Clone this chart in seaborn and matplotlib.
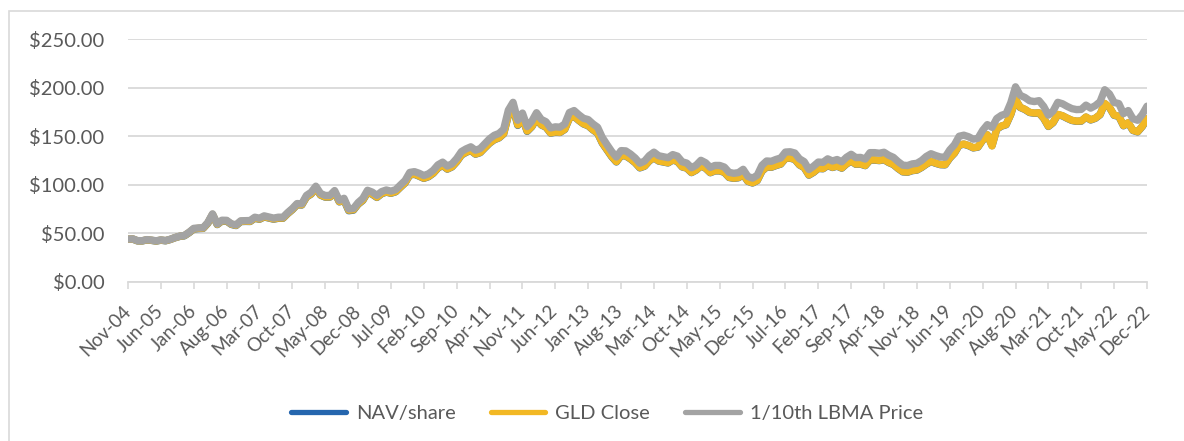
import numpy as np
import pandas as pd
import matplotlib
matplotlib.use("Agg")
import matplotlib.pyplot as plt
from matplotlib.patches import Rectangle
import seaborn as sns

# Monthly values, Nov-2004 .. Dec-2022
lbma_tenth = [
    43.9, 44.2,
    42.4, 42.3, 43.4, 42.9, 42.2, 43.1, 42.5, 43.8, 45.6, 47.0, 47.7, 51.0,
    55.0, 55.5, 55.7, 61.1, 70.0, 59.6, 63.4, 63.3, 59.8, 58.6, 62.8, 63.0,
    63.1, 66.5, 65.5, 67.9, 66.7, 65.6, 66.5, 66.5, 71.3, 75.5, 80.6, 80.3,
    89.0, 92.2, 98.5, 91.0, 88.9, 89.0, 94.0, 83.9, 86.0, 75.0, 75.5, 81.6,
    85.9, 94.3, 92.4, 89.0, 92.9, 94.6, 93.4, 94.9, 99.7, 104.3, 112.7, 113.5,
    111.8, 109.5, 111.3, 114.9, 120.5, 123.3, 119.3, 121.6, 127.1, 134.2, 137.0, 139.1,
    135.6, 137.3, 142.4, 147.4, 151.0, 152.9, 157.3, 177.0, 185.0, 166.5, 173.9, 160.0,
    165.6, 174.3, 167.4, 165.0, 158.6, 159.7, 159.4, 162.6, 174.5, 176.5, 172.2, 168.5,
    167.2, 162.8, 159.3, 148.8, 141.4, 134.3, 128.6, 135.2, 134.9, 131.7, 127.6, 122.2,
    124.4, 130.0, 133.6, 129.9, 128.9, 127.9, 131.1, 129.5, 123.7, 122.3, 117.5, 120.2,
    125.2, 122.7, 117.9, 119.9, 119.9, 118.2, 112.8, 111.8, 112.5, 115.9, 108.6, 106.8,
    109.8, 120.0, 124.5, 124.2, 126.1, 127.6, 133.7, 134.0, 132.7, 126.7, 123.8, 115.7,
    119.2, 123.4, 123.1, 126.7, 124.5, 126.0, 123.7, 128.3, 131.4, 128.0, 128.2, 126.5,
    133.1, 133.1, 132.5, 133.5, 130.4, 128.2, 123.8, 120.2, 119.8, 121.5, 122.1, 125.0,
    129.2, 132.0, 130.1, 128.6, 128.4, 135.9, 141.3, 150.0, 151.1, 149.5, 147.0, 147.9,
    156.1, 162.0, 159.2, 168.3, 171.6, 173.2, 184.7, 201.0, 192.2, 190.0, 186.6, 185.8,
    186.7, 180.8, 171.8, 176.0, 185.0, 183.5, 180.8, 178.5, 177.5, 177.7, 182.1, 179.0,
    181.6, 185.6, 198.0, 193.7, 184.9, 183.7, 173.3, 176.5, 168.1, 166.5, 172.5, 181.0,
]

gld_close = [
    43.8, 44.1,
    42.2, 42.1, 43.2, 42.7, 42.0, 42.9, 42.3, 43.6, 45.4, 46.8, 47.5, 50.7,
    54.5, 55.0, 55.2, 60.5, 69.4, 59.1, 62.8, 62.7, 59.3, 58.1, 62.2, 62.4,
    62.3, 65.6, 64.6, 67.0, 65.8, 64.7, 65.6, 65.6, 70.4, 74.5, 79.6, 79.3,
    87.5, 90.6, 96.8, 89.5, 87.4, 87.5, 92.4, 82.5, 84.5, 73.7, 74.2, 80.2,
    84.1, 92.3, 90.5, 87.1, 90.9, 92.6, 91.4, 92.9, 97.6, 102.1, 110.3, 111.1,
    109.0, 106.8, 108.5, 112.0, 117.5, 120.2, 116.3, 118.6, 123.9, 130.8, 133.6, 135.6,
    131.7, 133.3, 138.3, 143.1, 146.6, 148.5, 152.7, 171.9, 179.6, 161.7, 168.9, 155.4,
    160.1, 168.6, 161.9, 159.6, 153.4, 154.4, 154.1, 157.2, 168.7, 170.7, 166.5, 162.9,
    161.0, 156.8, 153.4, 143.3, 136.2, 129.3, 123.8, 130.2, 129.9, 126.8, 122.9, 117.7,
    119.3, 124.7, 128.1, 124.6, 123.6, 122.7, 125.7, 124.2, 118.6, 117.3, 112.7, 115.3,
    119.6, 117.2, 112.6, 114.5, 114.5, 112.9, 107.7, 106.8, 107.4, 110.7, 103.7, 102.0,
    104.5, 114.2, 118.5, 118.2, 120.0, 121.5, 127.3, 127.6, 126.3, 120.6, 117.9, 110.1,
    113.0, 117.0, 116.7, 120.1, 118.0, 119.4, 117.3, 121.6, 124.6, 121.3, 121.5, 119.9,
    125.6, 125.6, 125.1, 126.0, 123.1, 121.0, 116.9, 113.5, 113.1, 114.7, 115.3, 118.0,
    121.4, 124.1, 122.3, 120.9, 120.7, 127.7, 132.8, 141.0, 142.0, 140.5, 138.2, 139.0,
    146.1, 151.6, 140.0, 157.5, 160.6, 162.1, 172.9, 188.1, 179.9, 177.8, 174.7, 173.9,
    174.2, 168.7, 160.3, 164.2, 172.6, 171.2, 168.7, 166.5, 165.6, 165.8, 169.9, 167.0,
    168.7, 172.4, 183.9, 179.9, 171.8, 170.7, 161.0, 164.0, 156.2, 154.7, 160.3, 168.1,
]

nav_share = [
    43.7, 44.0,
    42.1, 42.0, 43.1, 42.6, 41.9, 42.8, 42.2, 43.5, 45.3, 46.7, 47.3, 50.5,
    54.3, 54.8, 55.0, 60.3, 69.1, 58.9, 62.6, 62.5, 59.1, 57.9, 62.0, 62.2,
    62.1, 65.4, 64.4, 66.8, 65.6, 64.5, 65.4, 65.4, 70.2, 74.3, 79.4, 79.1,
    87.3, 90.4, 96.5, 89.3, 87.2, 87.3, 92.1, 82.3, 84.2, 73.2, 73.8, 79.9,
    83.8, 92.0, 90.2, 86.9, 90.7, 92.4, 91.2, 92.7, 97.4, 101.9, 110.0, 110.8,
    108.8, 106.6, 108.3, 111.8, 117.2, 119.9, 116.1, 118.4, 123.7, 130.6, 133.4, 135.4,
    131.5, 133.1, 138.1, 142.9, 146.4, 148.3, 152.5, 171.6, 179.3, 161.2, 168.7, 155.0,
    159.9, 168.4, 161.7, 159.4, 153.2, 154.2, 153.9, 157.0, 168.5, 170.5, 166.3, 162.7,
    160.8, 156.6, 153.2, 143.0, 135.9, 129.0, 123.5, 130.0, 129.7, 126.6, 122.7, 117.4,
    119.1, 124.5, 127.9, 124.4, 123.4, 122.5, 125.5, 124.0, 118.4, 117.1, 112.5, 115.1,
    119.4, 117.0, 112.4, 114.3, 114.3, 112.7, 107.5, 106.6, 107.2, 110.5, 103.5, 101.8,
    104.3, 114.0, 118.3, 118.0, 119.8, 121.3, 127.1, 127.4, 126.1, 120.4, 117.7, 109.9,
    112.8, 116.8, 116.5, 119.9, 117.8, 119.2, 117.1, 121.4, 124.4, 121.1, 121.3, 119.7,
    125.4, 125.4, 124.9, 125.8, 122.9, 120.8, 116.7, 113.3, 112.9, 114.5, 115.1, 117.8,
    121.2, 123.9, 122.1, 120.7, 120.5, 127.5, 132.6, 140.8, 141.8, 140.3, 138.0, 138.8,
    145.9, 151.4, 140.3, 157.3, 160.4, 161.9, 172.7, 187.8, 179.7, 177.6, 174.5, 173.7,
    174.0, 168.5, 160.1, 164.0, 172.4, 171.0, 168.5, 166.3, 165.4, 165.6, 169.7, 166.8,
    168.5, 172.2, 183.6, 179.7, 171.6, 170.5, 160.8, 163.8, 156.0, 154.5, 160.1, 167.9,
]

tick_labels = [
    "Nov-04", "Jun-05", "Jan-06", "Aug-06", "Mar-07", "Oct-07", "May-08", "Dec-08",
    "Jul-09", "Feb-10", "Sep-10", "Apr-11", "Nov-11", "Jun-12", "Jan-13", "Aug-13",
    "Mar-14", "Oct-14", "May-15", "Dec-15", "Jul-16", "Feb-17", "Sep-17", "Apr-18",
    "Nov-18", "Jun-19", "Jan-20", "Aug-20", "Mar-21", "Oct-21", "May-22", "Dec-22",
]

series_names = ["NAV/share", "GLD Close", "1/10th LBMA Price"]
colors = ["#2566AE", "#F2B824", "#A3A3A3"]

months = np.arange(len(lbma_tenth))
df = pd.DataFrame({
    "month": months,
    series_names[0]: nav_share,
    series_names[1]: gld_close,
    series_names[2]: lbma_tenth,
})

sns.set_theme(style="white")
plt.rcParams["font.family"] = ["Lato", "DejaVu Sans"]
text_col = "#595959"
grid_col = "#D9D9D9"

W, H = 1184, 441
fig = plt.figure(figsize=(W / 100, H / 100), dpi=100)
fig.patch.set_facecolor("white")

# outer chart-area frame (only left and top edges visible)
fig.patches.append(Rectangle((9 / W, -0.2), 1.2, 1.2 - 11 / H, transform=fig.transFigure,
                             fill=False, edgecolor=grid_col, linewidth=1.2))

x0, x1 = 128, 1147
y_top, y_bot = 39.3, 281.7
ax = fig.add_axes([x0 / W, 1 - y_bot / H, (x1 - x0) / W, (y_bot - y_top) / H])

for name, col in zip(series_names, colors):
    sns.lineplot(data=df, x="month", y=name, ax=ax, color=col, linewidth=5.3,
                 label=name, legend=False, solid_capstyle="round", solid_joinstyle="round")

ax.set_xlim(0, 217)
ax.set_ylim(0, 250)
ax.set_yticks(np.arange(0, 251, 50))
ax.set_yticklabels([f"${v:.2f}" for v in np.arange(0, 251, 50)])
ax.set_xticks(np.arange(0, 218, 7))
ax.set_xticklabels(tick_labels, rotation=45, ha="right", va="center", rotation_mode="anchor")
ax.set_xlabel("")
ax.set_ylabel("")

ax.grid(axis="y", color=grid_col, linewidth=1.3)
ax.grid(axis="x", visible=False)
ax.set_axisbelow(True)
for s in ["top", "right", "left"]:
    ax.spines[s].set_visible(False)
ax.spines["bottom"].set_color(grid_col)
ax.spines["bottom"].set_linewidth(1.3)

ax.tick_params(axis="y", length=0, pad=17, labelsize=14.5, labelcolor=text_col)
ax.tick_params(axis="x", direction="out", length=5, width=1.2, color=grid_col,
               labelsize=13.5, labelcolor=text_col, pad=14, bottom=True)

handles = [plt.Line2D([0], [0], color=c, linewidth=3.8, solid_capstyle="round") for c in colors]
fig.legend(handles, series_names, loc="center", bbox_to_anchor=(607 / W, 1 - 413 / H),
           ncol=3, frameon=False, fontsize=14.5, labelcolor=text_col,
           handlelength=2.7, handletextpad=0.5, columnspacing=1.75)

fig.savefig("out.png", dpi=100, facecolor="white")
